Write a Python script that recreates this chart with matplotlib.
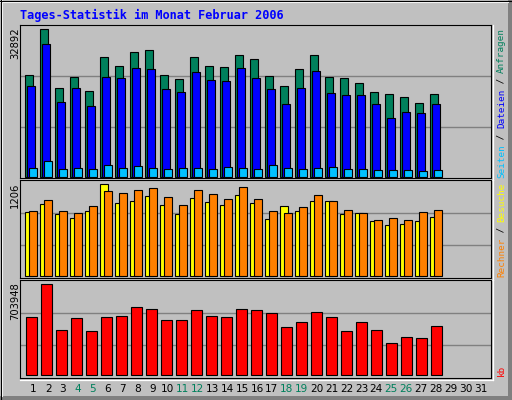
import matplotlib
matplotlib.use("Agg")
import matplotlib.pyplot as plt
from matplotlib.patches import Rectangle

days = list(range(1, 29))
all_days = list(range(1, 32))
weekend = [4, 5, 11, 12, 18, 19, 25, 26]

title = "Tages-Statistik im Monat Februar 2006"

# Anfragen / Dateien / Seiten
hits = [22640, 32892, 19740, 22200, 19070, 26660, 24650, 27780, 28230, 22640,
        21750, 26660, 24650, 24430, 27110, 26220, 22420, 20190, 23980, 27110,
        22200, 21970, 20860, 18850, 18400, 17730, 16390, 18400]
files = [20190, 29630, 16610, 19740, 15720, 22200, 21970, 24210, 23980, 19520,
         18850, 23310, 21530, 21300, 24210, 21970, 19520, 16170, 19740, 23540,
         18620, 18180, 18180, 16170, 13040, 14380, 14160, 16170]
pages = [1880, 3440, 1650, 1880, 1650, 2550, 1880, 2320, 1880, 1650,
         1880, 1880, 1650, 2100, 1880, 1650, 2550, 1880, 1650, 1880,
         2100, 1650, 1650, 1430, 1430, 1430, 1210, 1430]
# Besuche / Rechner
visits = [839, 944, 813, 760, 852, 1206, 957, 983, 1049, 931,
          813, 1023, 970, 931, 1062, 957, 747, 918, 852, 983,
          983, 813, 826, 721, 669, 682, 721, 773]
sites = [852, 996, 852, 826, 918, 1114, 1088, 1127, 1154, 1036,
         931, 1127, 1075, 1009, 1167, 1009, 852, 826, 905, 1062,
         983, 865, 826, 734, 760, 734, 839, 865]
# kb
kbytes = [448700, 703948, 348100, 440900, 340400, 448700, 456400, 526000, 510600, 425500,
          425500, 502800, 456400, 448700, 510600, 502800, 479600, 371300, 410000, 487400,
          448700, 340400, 410000, 348100, 247500, 294000, 286200, 379100]

max_labels = ["32892", "1206", "703948"]

GRAY = "#C0C0C0"
DARK = "#808080"
GREEN = "#00805C"
BLUE = "#0000FF"
CYAN = "#00C0FF"
YELLOW = "#FFFF00"
ORANGE = "#FF8000"
RED = "#FF0000"

W, H = 512, 400
fig = plt.figure(figsize=(W / 100, H / 100), dpi=100, facecolor=GRAY)


def fx(px):
    return px / W


def fy(py):
    return 1 - py / H


# background frame
bg = fig.add_axes([0, 0, 1, 1])
bg.set_xlim(0, W)
bg.set_ylim(H, 0)
bg.axis("off")
bg.add_patch(Rectangle((0, 0), W, H, facecolor=GRAY, edgecolor="none"))
bg.add_patch(Rectangle((W - 4, 0), 4, H, facecolor=DARK, edgecolor="none"))
bg.add_patch(Rectangle((0, H - 4), W, 4, facecolor=DARK, edgecolor="none"))
bg.plot([1.5, 1.5], [1, H - 4], color="white", lw=1.5)
bg.plot([1, W - 4], [1.5, 1.5], color="white", lw=1.5)
bg.plot([0.5, 0.5], [0, H], color="black", lw=0.8)
bg.plot([0, W], [0.5, 0.5], color="black", lw=0.8)

# x mapping: day d centre sits at pixel 31 + 15*(d-1)
X0, X1 = 20, 491
xlim = ((X0 - 31) / 15 + 1, (X1 - 31) / 15 + 1)

# panel: (top px, bottom px, base px, px of max value)
panels = [(25, 178, 176.6, 29.3), (180, 278, 276.3, 184.3), (280, 378, 375.3, 284.3)]
maxvals = [max(hits), max(visits), max(kbytes)]

axes = []
for (t, b, base, mpx), mv in zip(panels, maxvals):
    ax = fig.add_axes([fx(X0), fy(b), fx(X1 - X0), (b - t) / H])
    ax.set_facecolor(GRAY)
    per = mv / (base - mpx)
    lo = -(b - base) * per
    hi = mv + (mpx - t) * per
    ax.set_ylim(lo, hi)
    ax.set_xlim(*xlim)
    ax.set_xticks([])
    ax.set_yticks([])
    for s in ax.spines.values():
        s.set_color("black")
        s.set_linewidth(0.8)
    for f in (1 / 3, 2 / 3):
        ax.axhline(lo + f * (hi - lo), color=DARK, lw=1.0, zorder=0)
    axes.append(ax)
    # white lower/right edge
    bg.plot([X0, X1 + 1.5], [b + 1.5, b + 1.5], color="white", lw=0.9)
    bg.plot([X1 + 1.5, X1 + 1.5], [t, b + 1.5], color="white", lw=0.9)

ek = dict(edgecolor="black", linewidth=0.8)
a1, a2, a3 = axes
a1.bar([d - 2 / 15 for d in days], hits, width=8 / 15, color=GREEN, **ek)
a1.bar(days, files, width=8 / 15, color=BLUE, **ek)
a1.bar([d + 2 / 15 for d in days], pages, width=7.5 / 15, color=CYAN, **ek)

a2.bar([d - 1.7 / 15 for d in days], visits, width=8 / 15, color=YELLOW, **ek)
a2.bar([d + 2 / 15 for d in days], sites, width=7.5 / 15, color=ORANGE, **ek)

a3.bar([d + 0.5 / 15 for d in days], kbytes, width=10.4 / 15, color=RED, **ek)

# title
fig.text(fx(20), fy(15), title, color=BLUE, fontsize=8.6, fontweight="bold",
         family="DejaVu Sans Mono", ha="left", va="center")

# max labels on the left
for (t, b, base, mpx), lab in zip(panels, max_labels):
    fig.text(fx(15), fy(t + 2.5), lab, rotation=90, fontsize=7.2,
             ha="center", va="top", color="black")

# day labels
for d in all_days:
    c = GREEN if d in weekend else "black"
    px = 33.2 + 14.92 * (d - 1)
    fig.text(fx(px), fy(389.5), str(d), fontsize=7.6, color=c,
             ha="center", va="center")

# right-hand legends, drawn bottom to top
cw = 5.55
right_x = 501.5


def legend(pieces, bottom):
    pos = 0
    for txt, col in pieces:
        fig.text(fx(right_x), fy(bottom - pos * cw), txt, rotation=90,
                 fontsize=6.7, family="DejaVu Sans Mono", color=col,
                 ha="center", va="bottom")
        pos += len(txt)


legend([("Seiten", CYAN), (" / ", "black"), ("Dateien", BLUE),
        (" / ", "black"), ("Anfragen", GREEN)], 178)
legend([("Rechner", ORANGE), (" / ", "black"), ("Besuche", YELLOW)], 277)
legend([("kb", RED)], 376)

fig.savefig("out.png", dpi=100, facecolor=GRAY)
